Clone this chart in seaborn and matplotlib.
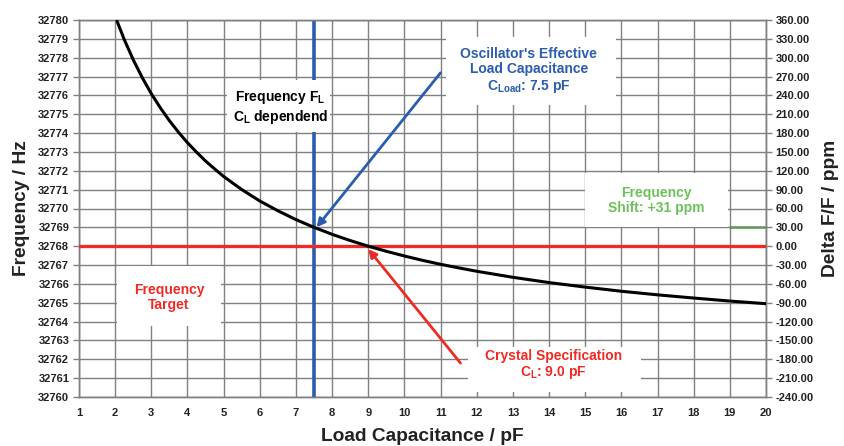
import matplotlib
matplotlib.use("Agg")
import matplotlib.pyplot as plt
from matplotlib.patches import Rectangle
import seaborn as sns
import pandas as pd

# ---- data ----
cap_pf = [2.05, 2.25, 2.5, 2.75, 3.0, 3.25, 3.5, 3.75, 4.0, 4.25, 4.5, 4.75, 5.0,
          5.25, 5.5, 5.75, 6.0, 6.5, 7.0, 7.5, 8.0, 8.5, 9.0, 9.5, 10.0, 10.5,
          11.0, 11.5, 12.0, 13.0, 14.0, 15.0, 16.0, 17.0, 18.0, 19.0, 20.0]
freq_hz = [32779.95, 32778.97, 32777.89, 32776.94, 32776.09, 32775.34, 32774.66,
           32774.05, 32773.49, 32772.99, 32772.52, 32772.10, 32771.70, 32771.35,
           32771.01, 32770.70, 32770.40, 32769.88, 32769.41, 32769.00, 32768.63,
           32768.30, 32768.00, 32767.73, 32767.48, 32767.25, 32767.04, 32766.85,
           32766.67, 32766.35, 32766.07, 32765.83, 32765.61, 32765.42, 32765.25,
           32765.09, 32764.95]
target_hz = 32768
cl_effective = 7.5
cl_spec = 9.0
shift_ppm = 31
shift_x = [19, 20]
x_ticks = list(range(1, 21))
y_ticks = list(range(32760, 32781))
ppm_ticks = list(range(-240, 361, 30))

df = pd.DataFrame({"cap": cap_pf, "freq": freq_hz})

sns.set_theme(style="white")
plt.rcParams["font.family"] = ["Liberation Sans", "DejaVu Sans"]
plt.rcParams["font.weight"] = "bold"
plt.rcParams["mathtext.fontset"] = "custom"
plt.rcParams["mathtext.rm"] = "Liberation Sans:bold"
plt.rcParams["mathtext.bf"] = "Liberation Sans:bold"

fig = plt.figure(figsize=(8.45, 4.46), dpi=100)
ax = fig.add_axes([79 / 845, 1 - 397 / 446, (766 - 79) / 845, (397 - 20) / 446])
ax2 = ax.twinx()

grid_c = "#808080"
ax.set_xlim(1, 20)
ax.set_ylim(32760, 32780)
ax.set_xticks(x_ticks)
ax.set_yticks(y_ticks)
ax.grid(True, color=grid_c, linewidth=1.0, zorder=0)
ax.set_axisbelow(True)

ax2.set_ylim(-240, 360)
ax2.set_yticks(ppm_ticks)
ax2.set_yticklabels([f"{v:.2f}" for v in ppm_ticks])

for a in (ax, ax2):
    for s in a.spines.values():
        s.set_color(grid_c)
        s.set_linewidth(1.0)
    a.tick_params(axis="both", labelsize=8, length=4, width=1, color=grid_c,
                  pad=3, labelcolor="#222222")
    for lbl in a.get_xticklabels() + a.get_yticklabels():
        lbl.set_fontweight("bold")

ax.tick_params(axis="x", pad=4)
ax.set_zorder(ax2.get_zorder() + 1)
ax.patch.set_visible(False)

# white label boxes (interrupt grid and lines like in the reference)
boxes = [(11.14, 32775.5, 4.71, 3.6),
         (5.10, 32774.06, 2.85, 2.76),
         (15.0, 32769.0, 3.95, 2.9),
         (2.05, 32763.77, 2.88, 3.18),
         (11.75, 32760.27, 4.79, 2.38)]
for (bx, by, bw, bh) in boxes:
    ax.add_patch(Rectangle((bx, by), bw, bh, facecolor="white", edgecolor="none",
                           zorder=2.5))

# curve and reference lines
sns.lineplot(data=df, x="cap", y="freq", ax=ax, color="black", linewidth=2.2,
             zorder=4, legend=False)
ax.axhline(target_hz, color="#ee2a24", linewidth=2.4, zorder=3)
ax.axvline(cl_effective, color="#2a5db0", linewidth=2.6, zorder=2)
ax2.plot(shift_x, [shift_ppm, shift_ppm], color="#5cc04a", linewidth=2.0)

ax.set_xlabel("Load Capacitance / pF", fontsize=13.8, fontweight="bold",
              labelpad=7, color="#222222")
ax.set_ylabel("Frequency / Hz", fontsize=13.8, fontweight="bold", labelpad=6,
              color="#222222")
ax2.set_ylabel("Delta F/F / ppm", fontsize=13.8, fontweight="bold", labelpad=6,
               color="#222222")

tf = dict(fontsize=10, fontweight="bold", ha="center", va="center",
          linespacing=1.1, zorder=6)

ax.text(13.44, 32777.3, "Oscillator's Effective\nLoad Capacitance\nC$_\\mathregular{Load}$: 7.5 pF",
        color="#2a5db0", **tf)
ax.text(6.57, 32775.36, "Frequency F$_\\mathregular{L}$\nC$_\\mathregular{L}$ dependend",
        color="black", **tf)
ax.text(16.96, 32770.42, "Frequency\nShift: +31 ppm", color="#6cc25a", **tf)
ax.text(3.49, 32765.3, "Frequency\nTarget", color="#ee2a24", **tf)
ax.text(14.13, 32761.7, "Crystal Specification\nC$_\\mathregular{L}$: 9.0 pF",
        color="#ee2a24", **tf)

ax.annotate("", xy=(7.57, 32769.0), xytext=(11.0, 32777.2),
            arrowprops=dict(arrowstyle="-|>", color="#2a5db0", lw=2.0,
                            mutation_scale=12, shrinkA=0, shrinkB=0), zorder=5)
ax.annotate("", xy=(cl_spec, 32767.85), xytext=(11.55, 32761.8),
            arrowprops=dict(arrowstyle="-|>", color="#ee2a24", lw=2.0,
                            mutation_scale=12, shrinkA=0, shrinkB=0), zorder=5)

fig.savefig("out.png", dpi=100)
